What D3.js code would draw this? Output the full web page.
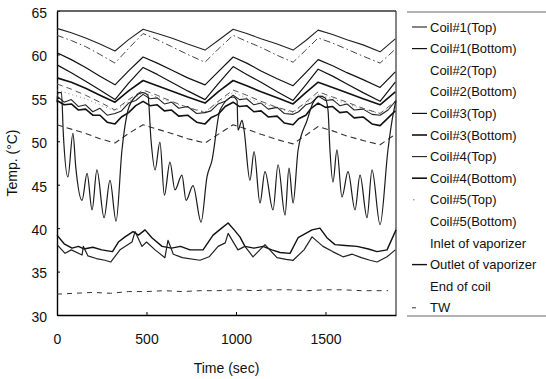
<!DOCTYPE html>
<html>
<head>
<meta charset="utf-8">
<script src="https://cdn.jsdelivr.net/npm/d3@7"></script>
<style>
  body { margin: 0; background: #fff; }
  svg { display: block; font-family: "Liberation Sans", Arial, sans-serif; }
</style>
</head>
<body>
<script>
// 时间轴 (sec)
const xTicks = [0, 500, 1000, 1500];
const yTicks = [30, 35, 40, 45, 50, 55, 60, 65];

const tCoarse = [0, 80, 160, 240, 324, 400, 481, 560, 640, 730, 827, 900, 984, 1060, 1140, 1230, 1319, 1390, 1459, 1540, 1620, 1710, 1805, 1890];
const tFine = [0, 40, 80, 120, 160, 200, 240, 280, 324, 360, 400, 440, 481, 520, 560, 600, 640, 680, 730, 780, 827, 860, 900, 940, 984, 1020, 1060, 1100, 1140, 1180, 1230, 1270, 1319, 1350, 1390, 1420, 1459, 1500, 1540, 1580, 1620, 1660, 1710, 1760, 1805, 1850, 1890];

// 各线温度 (°C)
const coil1Top    = [63.0, 62.5, 61.9, 61.2, 60.4, 61.7, 62.9, 62.4, 61.9, 61.2, 60.5, 61.6, 62.9, 62.4, 61.8, 61.2, 60.5, 61.6, 62.8, 62.3, 61.7, 61.1, 60.3, 61.8];
const coil1Bottom = [60.2, 59.4, 58.5, 57.5, 56.5, 58.1, 59.7, 59.0, 58.2, 57.3, 56.5, 58.0, 59.7, 59.0, 58.1, 57.2, 56.4, 57.9, 59.4, 58.7, 57.9, 57.1, 56.2, 58.0];
const coil2Top    = [62.2, 61.6, 60.9, 60.0, 59.0, 60.7, 62.4, 61.7, 60.9, 60.0, 59.1, 60.6, 62.2, 61.5, 60.8, 59.9, 59.1, 60.5, 61.9, 61.3, 60.6, 59.8, 59.0, 60.6];
const coil2Bottom = [56.6, 56.0, 55.3, 54.5, 53.6, 54.8, 55.9, 55.3, 54.6, 53.9, 53.3, 54.6, 55.9, 55.3, 54.6, 53.9, 53.4, 54.5, 55.7, 55.1, 54.5, 53.8, 53.2, 54.6];
const coil3Top    = [58.8, 57.9, 56.9, 55.9, 54.8, 56.7, 58.5, 57.7, 56.8, 55.8, 54.8, 56.6, 58.6, 57.7, 56.8, 55.7, 54.7, 56.5, 58.3, 57.5, 56.6, 55.6, 54.6, 56.8];
const coil3Bottom = [57.3, 56.8, 56.1, 55.3, 54.5, 55.8, 57.0, 56.4, 55.8, 55.1, 54.4, 55.7, 57.0, 56.4, 55.7, 55.0, 54.3, 55.6, 56.8, 56.2, 55.6, 54.9, 54.2, 55.7];
const coil4Top    = [55.2, 54.5, 54.8, 54.0, 54.2, 53.4, 53.8, 53.0, 53.2, 53.5, 54.4, 54.7, 55.4, 54.9, 55.0, 54.3, 54.5, 53.8, 54.0, 53.2, 53.3, 53.5, 54.3, 54.6, 55.3, 54.8, 54.9, 54.2, 54.4, 53.7, 53.9, 53.2, 53.1, 53.4, 54.2, 54.4, 55.2, 54.7, 54.8, 54.1, 54.3, 53.6, 53.7, 53.1, 53.0, 53.6, 54.6];
const coil4Bottom = [54.7, 54.2, 54.3, 53.6, 53.7, 53.0, 53.0, 52.2, 52.0, 52.8, 53.3, 54.1, 54.6, 54.1, 54.2, 53.5, 53.6, 52.9, 53.0, 52.2, 52.0, 52.7, 53.1, 54.0, 54.5, 54.0, 54.1, 53.4, 53.5, 52.8, 52.9, 52.1, 51.9, 52.6, 53.0, 53.8, 54.4, 53.9, 54.0, 53.3, 53.4, 52.7, 52.8, 52.0, 51.8, 52.7, 53.5];
const coil5Top    = [55.9, 55.4, 54.9, 54.2, 53.5, 54.6, 55.6, 55.1, 54.5, 53.9, 53.4, 54.5, 55.6, 55.0, 54.4, 53.8, 53.3, 54.4, 55.4, 54.9, 54.3, 53.7, 53.2, 54.4];
const coil5Bottom = [51.9, 51.4, 50.9, 50.3, 49.8, 50.9, 51.9, 51.4, 50.9, 50.3, 49.8, 50.8, 51.9, 51.4, 50.8, 50.2, 49.7, 50.7, 51.7, 51.2, 50.6, 50.1, 49.6, 50.8];

const inletT = [0, 5, 25, 35, 61, 89, 105, 140, 168, 196, 223, 263, 296, 330, 363, 397, 436, 480, 508, 525, 548, 575, 600, 631, 659, 698, 721, 760, 805, 838, 866, 911, 983, 1006, 1011, 1034, 1045, 1078, 1101, 1134, 1162, 1207, 1235, 1274, 1296, 1319, 1347, 1397, 1430, 1469, 1497, 1514, 1525, 1542, 1564, 1592, 1626, 1665, 1693, 1732, 1760, 1805, 1849, 1872, 1894];
const inletV = [54.5, 55.6, 55.6, 51.0, 45.9, 50.9, 47.0, 43.2, 46.3, 42.1, 46.7, 41.2, 45.5, 40.8, 49.0, 53.6, 55.1, 55.6, 55.3, 50.2, 46.7, 49.9, 43.8, 47.6, 44.4, 46.1, 43.2, 44.9, 40.7, 45.9, 47.8, 53.6, 55.1, 54.7, 51.3, 52.4, 51.3, 45.5, 48.8, 42.9, 46.5, 42.1, 47.3, 41.5, 46.9, 42.9, 49.0, 52.4, 54.4, 55.2, 55.0, 53.6, 49.0, 45.3, 49.0, 43.6, 46.5, 42.1, 46.1, 41.2, 46.7, 40.4, 49.0, 52.4, 54.7];

const outletT = [0, 40, 84, 120, 150, 200, 250, 310, 343, 380, 425, 455, 492, 530, 587, 640, 690, 743, 816, 872, 920, 956, 990, 1022, 1050, 1100, 1151, 1200, 1246, 1302, 1347, 1390, 1425, 1469, 1508, 1553, 1610, 1676, 1740, 1788, 1844, 1894];
const outletV = [39.2, 38.2, 37.7, 37.9, 37.6, 37.8, 37.5, 37.3, 38.4, 39.0, 39.6, 39.2, 39.8, 38.9, 37.9, 37.7, 37.9, 37.5, 37.5, 39.2, 40.0, 40.6, 39.8, 39.0, 37.9, 37.7, 37.9, 37.5, 37.2, 37.1, 38.9, 39.4, 39.8, 40.0, 38.9, 38.1, 38.0, 37.9, 37.6, 37.3, 37.5, 39.8];

const endT = [0, 45, 80, 140, 147, 173, 220, 268, 300, 352, 419, 436, 475, 500, 548, 603, 620, 650, 700, 799, 850, 900, 940, 956, 1011, 1050, 1095, 1162, 1229, 1280, 1319, 1380, 1425, 1486, 1540, 1598, 1650, 1700, 1749, 1788, 1844, 1890];
const endV = [38.1, 37.1, 37.5, 36.9, 37.9, 36.8, 36.5, 36.3, 36.1, 37.5, 38.4, 39.6, 37.9, 38.4, 37.5, 36.6, 38.6, 37.0, 36.6, 36.3, 36.7, 37.9, 38.3, 39.4, 37.5, 37.9, 36.7, 38.1, 36.6, 36.4, 36.3, 37.5, 39.0, 37.9, 37.3, 36.7, 37.0, 36.6, 36.3, 36.1, 36.7, 37.5];

const twT = [0, 100, 200, 300, 400, 500, 600, 700, 800, 900, 1000, 1100, 1200, 1300, 1400, 1500, 1600, 1700, 1850];
const twV = [32.4, 32.5, 32.6, 32.5, 32.7, 32.7, 32.8, 32.7, 32.8, 32.8, 32.9, 32.8, 32.9, 32.9, 32.8, 32.9, 32.9, 32.8, 32.8];

const seriesNames = ["Coil#1(Top)", "Coil#1(Bottom)", "Coil#2(Top)", "Coil#2(Bottom)", "Coil#3(Top)", "Coil#3(Bottom)", "Coil#4(Top)", "Coil#4(Bottom)", "Coil#5(Top)", "Coil#5(Bottom)", "Inlet of vaporizer", "Outlet of vaporizer", "End of coil", "TW"];
const seriesData = [
  [tCoarse, coil1Top], [tCoarse, coil1Bottom], [tCoarse, coil2Top], [tCoarse, coil2Bottom],
  [tCoarse, coil3Top], [tCoarse, coil3Bottom], [tFine, coil4Top], [tFine, coil4Bottom],
  [tCoarse, coil5Top], [tCoarse, coil5Bottom], [inletT, inletV], [outletT, outletV],
  [endT, endV], [twT, twV]
];

// 线型
const lineStyle = [
  { w: 1.1, c: "#222", dash: null, sample: "solid", smooth: false },
  { w: 1.2, c: "#111", dash: null, sample: "solid", smooth: false },
  { w: 1.0, c: "#444", dash: "7,3,1.5,3", sample: "none", smooth: false },
  { w: 1.0, c: "#555", dash: "6,4", sample: "none", smooth: false },
  { w: 1.2, c: "#111", dash: null, sample: "solid", smooth: false },
  { w: 1.6, c: "#111", dash: null, sample: "solid", smooth: false },
  { w: 1.1, c: "#222", dash: null, sample: "solid", smooth: false },
  { w: 1.6, c: "#111", dash: null, sample: "solid", smooth: false },
  { w: 0.9, c: "#777", dash: "1,3", sample: "dot", smooth: false },
  { w: 1.1, c: "#333", dash: "6,4", sample: "none", smooth: false },
  { w: 1.2, c: "#1a1a1a", dash: null, sample: "none", smooth: true },
  { w: 1.4, c: "#111", dash: null, sample: "solid", smooth: false },
  { w: 1.2, c: "#222", dash: null, sample: "none", smooth: false },
  { w: 1.0, c: "#333", dash: "5,5", sample: "dash", smooth: false }
];

const width = 546, height = 379;
const margin = { left: 57, right: 150, top: 11, bottom: 64 };

const svg = d3.select("body").append("svg")
  .attr("width", width).attr("height", height);

const x = d3.scaleLinear().domain([0, 1894]).range([margin.left, width - margin.right]);
const y = d3.scaleLinear().domain([30, 65]).range([height - margin.bottom, margin.top]);

// 坐标轴 (刻度朝内)
svg.append("g")
  .attr("transform", `translate(0,${y(30)})`)
  .call(d3.axisBottom(x).tickValues(xTicks).tickFormat(d3.format("d")).tickSizeInner(-3).tickSizeOuter(0).tickPadding(19))
  .call(g => g.select(".domain").attr("stroke-width", 1.4))
  .call(g => g.selectAll("text").attr("font-size", 14).attr("fill", "#111"));

svg.append("g")
  .attr("transform", `translate(${x(0)},0)`)
  .call(d3.axisLeft(y).tickValues(yTicks).tickSizeInner(-3).tickSizeOuter(0).tickPadding(10))
  .call(g => g.select(".domain").attr("stroke-width", 1.4))
  .call(g => g.selectAll("text").attr("font-size", 14).attr("fill", "#111").attr("dy", "0.45em"));

// 顶部、右侧边框
svg.append("line").attr("x1", x(0)).attr("x2", x(1894)).attr("y1", y(65)).attr("y2", y(65))
  .attr("stroke", "#333").attr("stroke-width", 1.6);
svg.append("line").attr("x1", x(1894)).attr("x2", x(1894)).attr("y1", y(65)).attr("y2", y(30))
  .attr("stroke", "#333").attr("stroke-width", 1.2);

const line = d3.line().x(d => x(d[0])).y(d => y(d[1]));
const smoothLine = d3.line().x(d => x(d[0])).y(d => y(d[1])).curve(d3.curveMonotoneX);

svg.append("g").selectAll("path")
  .data(seriesData)
  .join("path")
  .attr("fill", "none")
  .attr("stroke", (d, i) => lineStyle[i].c)
  .attr("stroke-width", (d, i) => lineStyle[i].w)
  .attr("stroke-dasharray", (d, i) => lineStyle[i].dash)
  .attr("stroke-linejoin", "round")
  .attr("d", (d, i) => (lineStyle[i].smooth ? smoothLine : line)(d[0].map((t, k) => [t, d[1][k]])));

// 轴标题
svg.append("text")
  .attr("x", (x(0) + x(1894)) / 2).attr("y", 373)
  .attr("text-anchor", "middle").attr("font-size", 14).attr("fill", "#111")
  .text("Time (sec)");

svg.append("text")
  .attr("transform", `translate(17,${(y(30) + y(65)) / 2}) rotate(-90)`)
  .attr("text-anchor", "middle").attr("font-size", 14).attr("fill", "#111")
  .text("Temp. (°C)");

// 图例
const lg = svg.append("g");
lg.append("line").attr("x1", 407).attr("x2", 546).attr("y1", 12).attr("y2", 12).attr("stroke", "#666").attr("stroke-width", 1);
lg.append("line").attr("x1", 407).attr("x2", 546).attr("y1", 316).attr("y2", 316).attr("stroke", "#666").attr("stroke-width", 1);

const rows = lg.selectAll("g.row")
  .data(seriesNames)
  .join("g")
  .attr("class", "row")
  .attr("transform", (d, i) => `translate(412,${27 + i * 21.6})`);

rows.each(function (d, i) {
  const s = lineStyle[i];
  const g = d3.select(this);
  if (s.sample === "solid") {
    g.append("line").attr("x1", 0).attr("x2", 15).attr("stroke", s.c).attr("stroke-width", s.w);
  } else if (s.sample === "dot") {
    g.append("line").attr("x1", 1).attr("x2", 2.5).attr("stroke", s.c).attr("stroke-width", 1);
  } else if (s.sample === "dash") {
    g.append("line").attr("x1", 0).attr("x2", 4).attr("stroke", s.c).attr("stroke-width", s.w);
  }
});

rows.append("text")
  .attr("x", 18).attr("dy", "0.35em")
  .attr("font-size", 13).attr("fill", "#111")
  .text(d => d);
</script>
</body>
</html>
